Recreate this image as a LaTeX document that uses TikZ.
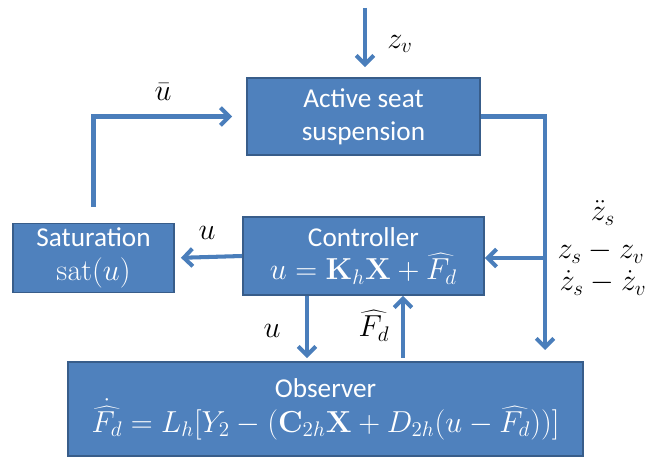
\documentclass[tikz,border=0pt]{standalone}
\usepackage[no-math]{fontspec}
\setmainfont{Carlito}
\usetikzlibrary{arrows.meta}

\definecolor{boxblue}{RGB}{79,129,189}
\definecolor{boxedge}{RGB}{56,93,138}
\definecolor{sigblue}{RGB}{74,126,187}
\newcommand{\mth}[1]{{\fontsize{16.5}{20}\selectfont$#1$}}

\begin{document}
\begin{tikzpicture}[x=0.02cm, y=-0.02cm,
every node/.style = {align=center, inner sep=0pt},
block/.style = {draw=boxedge, line width=1.1pt, fill=boxblue, text=white,
  font=\fontsize{15.5}{19}\selectfont},
sig/.style = {draw=sigblue, line width=2.3pt, -{Straight Barb[length=5pt, width=10pt]}},
lab/.style = {font=\fontsize{17}{20}\selectfont}]
\useasboundingbox (0,0) rectangle (646,459);
%
\node[block, minimum width=4.66cm, minimum height=1.54cm] (seat) at (363.5,116.5)
	{Active seat\\ suspension};
\node[block, minimum width=3.22cm, minimum height=1.38cm] (sat) at (93.5,258)
	{Saturation\\ \mth{\mathrm{sat}(u)}};
\node[block, minimum width=4.82cm, minimum height=1.56cm] (ctrl) at (363.5,256)
	{Controller\\ \mth{u=\mathbf{K}_h\mathbf{X}+\widehat{F_d}}};
\node[block, minimum width=10.3cm, minimum height=1.88cm] (obs) at (325.5,409)
	{Observer\\ \mth{\dot{\widehat{F_d}}=L_h[Y_2-(\mathbf{C}_{2h}\mathbf{X}+D_{2h}(u-\widehat{F_d}))]}};
%
\coordinate (zin) at (365,8);
\coordinate (tap) at (545,258);
\coordinate (fbend) at (545,350);
\coordinate (udown) at (307,0);
\coordinate (fup) at (403,0);
%
\draw[sig, shorten >=5.7pt] (zin) -- (zin |- seat.north);
\draw[sig, shorten <=9pt, shorten >=8pt] (sat.north) |- (seat.west);
\draw[sig] (seat.east) -| (fbend);
\draw[sig] (tap) -- (tap -| ctrl.east);
\draw[sig, shorten >=3.4pt] (ctrl.west) -- (sat.east);
\draw[sig, shorten >=1.7pt] (ctrl.south -| udown) -- (obs.north -| udown);
\draw[sig, shorten <=2pt] (obs.north -| fup) -- (ctrl.south -| fup);
%
\node[lab] (zv) at (400,44) {$z_v$};
\node[lab] (ubar) at (163,92) {$\bar{u}$};
\node[lab] (usat) at (207,233) {$u$};
\node[lab] (uobs) at (272,331) {$u$};
\node[lab] (fhat) at (374,326) {$\widehat{F_d}$};
\node[lab] (zdd) at (603,213) {$\ddot{z}_s$};
\node[lab] (zrel) at (601,252) {$z_s-z_v$};
\node[lab] (zdrel) at (603,283) {$\dot{z}_s-\dot{z}_v$};
\end{tikzpicture}
\end{document}
